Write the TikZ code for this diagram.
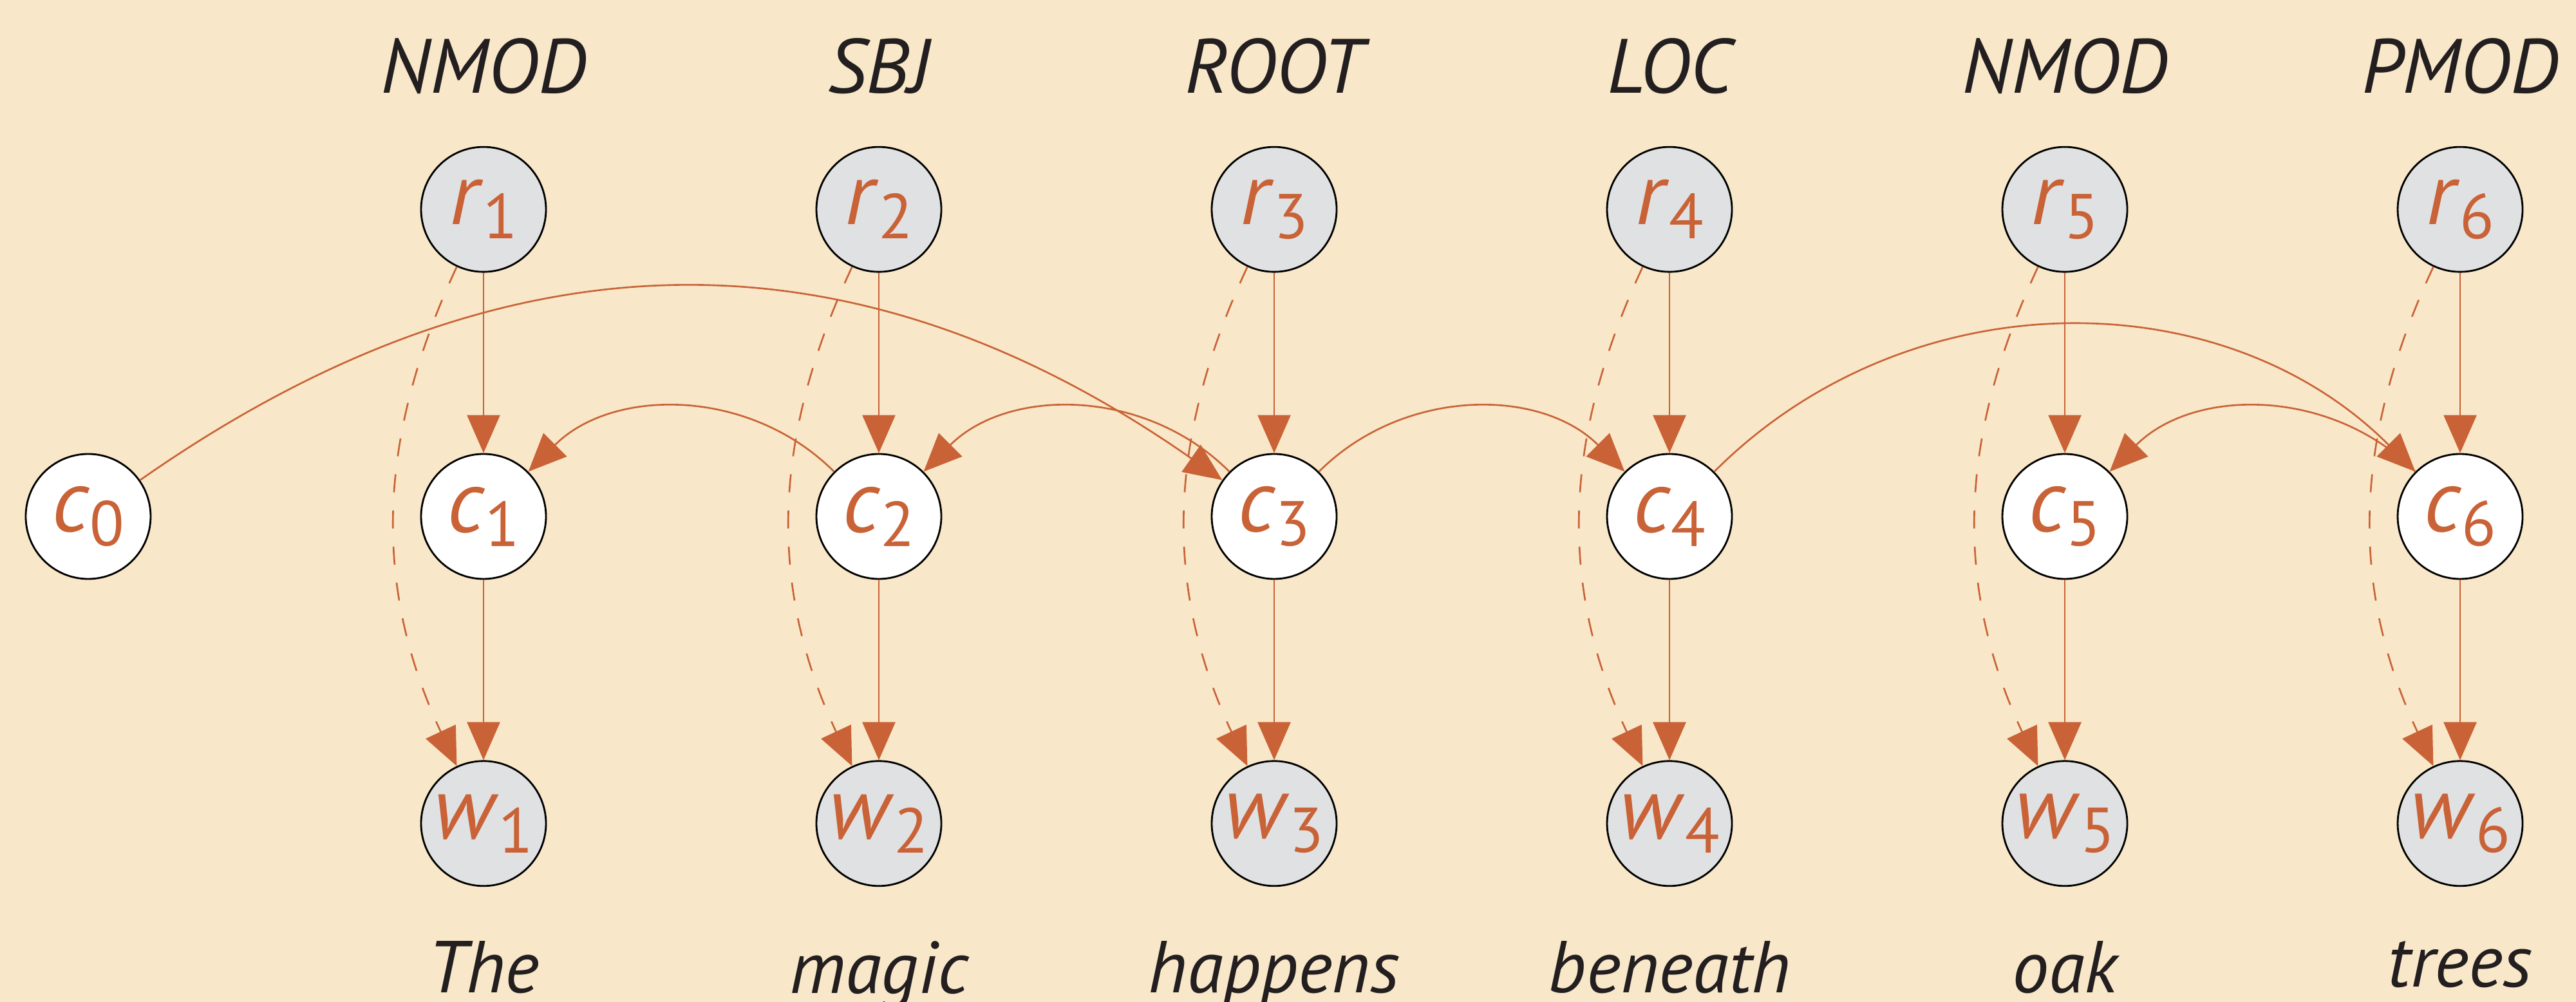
\documentclass[tikz,border=0pt]{standalone}
\usepackage{fontspec}
\setmainfont{PT Sans}
\usetikzlibrary{positioning,arrows.meta}
\definecolor{paper}{HTML}{F8E7C8}
\definecolor{rust}{HTML}{C96236}
\definecolor{pale}{HTML}{E0E1E3}
\definecolor{ink}{HTML}{231F20}
\newcommand{\vsub}[2]{\textit{#1}\raisebox{-0.22cm}{\fontsize{28}{28}\selectfont #2}}

\begin{document}
\begin{tikzpicture}[
    var/.style ={circle, draw=black, line width=0.8pt, minimum size=1.94cm, inner sep=0pt,
                 text=rust, font=\fontsize{39}{39}\selectfont},
    obs/.style ={var, fill=pale},
    hid/.style ={var, fill=white},
    role/.style={inner sep=0pt, text depth=0pt, text=ink, font=\fontsize{34}{40}\selectfont\itshape},
    word/.style={inner sep=0pt, text=ink, font=\fontsize{32.5}{39}\selectfont\itshape},
    dep/.style ={draw=rust, line width=0.75pt, -{Triangle[width=5.1mm,length=5.9mm]}},
    node distance=2.8cm]
  \fill[paper] (0,0) rectangle (40.01,15.56);
  \useasboundingbox (0,0) rectangle (40.01,15.56);
  \node[hid] (c0) at (1.37,7.54) {\vsub{c}{0}};
  \foreach \i/\rel/\tok in {1/NMOD/The, 2/SBJ/magic, 3/ROOT/happens,
                            4/LOC/beneath, 5/NMOD/oak, 6/PMOD/trees} {
    \node[hid] (c\i) at (1.37+6.14*\i,7.54) {\vsub{c}{\i}};
    \node[obs, above=of c\i] (r\i) {\vsub{r}{\i}};
    \node[obs, below=of c\i] (w\i) {\vsub{w}{\i}};
    \node[role, above=0.82cm of r\i] (l\i) {\rel};
    \node[word, below=0.84cm of w\i] (t\i) {\tok};
    \draw[dep] (r\i) -- (c\i);
    \draw[dep] (c\i) -- (w\i);
    \draw[dep, dash pattern=on 8pt off 8pt] (r\i) to[out=-115,in=115] (w\i);
  }
  % head -> dependent arcs
  \draw[dep] (c0) to[bend left=35, looseness=1.06] (c3);
  \draw[dep] (c3) to[bend right=45] (c2);
  \draw[dep] (c2) to[bend right=45] (c1);
  \draw[dep] (c3) to[bend left=45] (c4);
  \draw[dep] (c4) to[bend left=45] (c6);
  \draw[dep] (c6) to[bend right=45] (c5);
\end{tikzpicture}
\end{document}
